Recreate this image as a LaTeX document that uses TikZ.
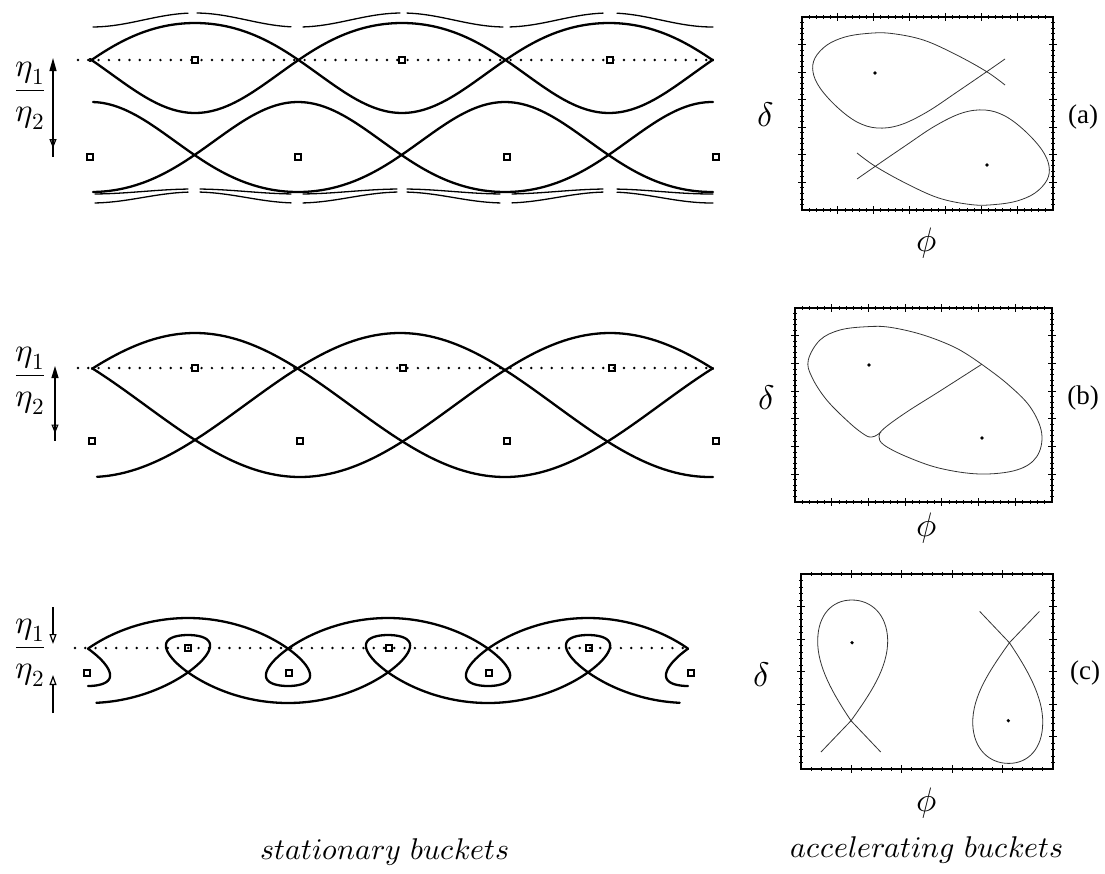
\documentclass[tikz,border=0pt]{standalone}
\usepackage{amsmath}
\usepackage{unicode-math}
\newfontfamily\labfont{Liberation Serif}
\usetikzlibrary{arrows.meta,decorations.markings}

% frame with ticks: x0,y0,x1,y1, major intervals in x and y
\newcommand{\phasebox}[6]{%
  \draw[boxline] (#1,#2) rectangle (#3,#4);
  \pgfmathsetmacro{\pbdx}{(#3-#1)/(5*#5)}%
  \pgfmathsetmacro{\pbdy}{(#4-#2)/(5*#6)}%
  \pgfmathtruncatemacro{\pbnx}{5*#5-1}%
  \pgfmathtruncatemacro{\pbny}{5*#6-1}%
  \foreach \i in {1,...,\pbnx}{%
    \pgfmathsetmacro{\tl}{mod(\i,5)==0 ? 3.8 : 1.8}%
    \draw[ticks] ({#1+\i*\pbdx},{#2-\tl}) -- ({#1+\i*\pbdx},{#2+\tl});
    \draw[ticks] ({#1+\i*\pbdx},{#4-\tl}) -- ({#1+\i*\pbdx},{#4+\tl});
  }
  \foreach \i in {1,...,\pbny}{%
    \pgfmathsetmacro{\tl}{mod(\i,5)==0 ? 3.8 : 1.8}%
    \draw[ticks] ({#1-\tl},{#2+\i*\pbdy}) -- ({#1+\tl},{#2+\i*\pbdy});
    \draw[ticks] ({#3-\tl},{#2+\i*\pbdy}) -- ({#3+\tl},{#2+\i*\pbdy});
  }
}

% separatrix of panel (a), right
\newcommand{\fishA}[1]{%
  \draw[orbit,#1] plot[smooth, tension=0.6] coordinates {(1005,85) (986.7,71.7)
    (956.7,55) (923.3,40) (890,33.3) (866.7,33.5) (845,37) (827,45) (815,58)
    (813,72) (820,88) (837,107) (857,122) (877,128) (900,125) (927,112)
    (957,92) (986.7,71.7) (1005,59)};
}

% separatrix of panel (c), right
\newcommand{\fishC}[1]{%
  \draw[orbit,#1] (821,752) -- (851,720.7)
    .. controls (870,694) and (888,668) .. (887.7,640)
    .. controls (887,614) and (871,600) .. (851.7,600)
    .. controls (832,600) and (818,615) .. (817.7,640)
    .. controls (817,666) and (833,694) .. (851,720.7) -- (880.7,752);
}

\begin{document}
\begin{tikzpicture}[x=1pt, y=-1pt,
    sepline/.style={line width=2.3pt, line cap=round},
    outerline/.style={line width=1.3pt, line cap=round},
    dotline/.style={line width=2.7pt, line cap=round, dash pattern=on 0pt off 10.3pt},
    fixpt/.style={line width=1.6pt},
    orbit/.style={line width=0.8pt, black!80},
    boxline/.style={line width=1.4pt},
    ticks/.style={line width=0.9pt},
    etalab/.style={font=\fontsize{33}{38}\selectfont},
    mathlab/.style={font=\fontsize{34}{38}\selectfont},
    captlab/.style={font=\fontsize{30}{34}\selectfont},
    panellab/.style={font=\labfont\fontsize{27}{30}\selectfont},
    opentip/.style={-{Triangle[open,length=10pt,width=7pt]}},
    openmark/.style={postaction=decorate, decoration={markings,
        mark=at position #1 with {\arrow{Triangle[open,length=9pt,width=7pt]}}}},
  ]

  \useasboundingbox (0,0) rectangle (1105,873);

  % ================= (a) stationary =================
  \draw[dotline] (78,60) -- (713,60);

  % upper separatrix
  \draw[sepline] plot[domain=90:713, samples=160]
      (\x, {64 - 45*cos(0.8696*(\x-195)) + 4*cos(1.7391*(\x-195))});
  \draw[sepline] plot[domain=90:713, samples=160]
      (\x, {64 + 45*cos(0.8696*(\x-195)) + 4*cos(1.7391*(\x-195))});
  % lower separatrix
  \draw[sepline] plot[domain=93:713, samples=160]
      (\x, {151 - 45*cos(0.8696*(\x-298)) - 4*cos(1.7391*(\x-298))});
  \draw[sepline] plot[domain=93:713, samples=160]
      (\x, {151 + 45*cos(0.8696*(\x-298)) - 4*cos(1.7391*(\x-298))});

  % outer orbits
  \foreach \a/\b in {93/188, 197/291, 303/400, 407/503, 510/603, 617/713}{
    \draw[outerline] plot[domain=\a:\b, samples=30]
        (\x, {20 - 7*cos(1.7391*(\x-195))});
  }
  \foreach \a/\b in {95/188, 200/291, 303/397, 407/500, 512/603, 617/713}{
    \draw[outerline] plot[domain=\a:\b, samples=30]
        (\x, {191.5 + 2.5*cos(1.7391*(\x-298))});
    \draw[outerline] plot[domain=\a:\b, samples=30]
        (\x, {197.5 + 5.5*cos(1.7391*(\x-298))});
  }

  % fixed points
  \foreach \px in {195,402,610}
    \draw[fixpt] ({\px-3},57) rectangle +(6,6);
  \foreach \px in {90,298,507,716}
    \draw[fixpt] ({\px-3},154) rectangle +(6,6);

  % eta arrow
  \coordinate (a-top) at (53,58);
  \coordinate (a-bot) at (53,157);
  \draw[line width=1.2pt, {Triangle[length=13pt,width=7pt]}-, openmark=0.91] (a-top) -- (a-bot);
  \node[etalab] (eta-a) at (30,96) {$\dfrac{\eta_1}{\eta_2}$};

  % ================= (b) stationary =================
  \draw[dotline] (78,368) -- (716,368);

  \draw[sepline] plot[domain=92:713, samples=160]
      (\x, {405 - 72*cos(0.5806*(\x-195))});
  \draw[sepline] plot[domain=92:713, samples=160]
      (\x, {405 - 72*cos(0.5806*(\x-610))});
  \draw[sepline] plot[domain=97:713, samples=160]
      (\x, {405 - 72*cos(0.5806*(\x-400))});

  \foreach \px in {195,403,612}
    \draw[fixpt] ({\px-3},365) rectangle +(6,6);
  \foreach \px in {92,300,507,716}
    \draw[fixpt] ({\px-3},438) rectangle +(6,6);

  \coordinate (b-top) at (55,366);
  \coordinate (b-bot) at (55,441);
  \draw[line width=1.2pt, {Triangle[length=12pt,width=7pt]}-, openmark=0.9] (b-top) -- (b-bot);
  \node[etalab] (eta-b) at (30,381) {$\dfrac{\eta_1}{\eta_2}$};

  % ================= (c) stationary =================
  \draw[dotline] (75,648) -- (690,648);

  % upper chain with loops below the crossings
  \draw[sepline] plot[domain=109:971, samples=400, variable=\t]
      ({88 + 0.5556*\t - 64*sin(\t)}, {656.3 + 34*cos(\t) - 4.3*cos(2*\t)});
  \draw[sepline] plot[domain=-109:0, samples=60, variable=\t]
      ({88 + 0.5556*\t - 64*sin(\t)}, {656.3 + 34*cos(\t) - 4.3*cos(2*\t)});
  \draw[sepline] plot[domain=1080:1189, samples=60, variable=\t]
      ({88 + 0.5556*\t - 64*sin(\t)}, {656.3 + 34*cos(\t) - 4.3*cos(2*\t)});
  % lower chain with loops above the crossings
  \draw[sepline] plot[domain=-175:895, samples=400, variable=\t]
      ({188 + 0.5556*\t - 64*sin(\t)}, {664.7 - 34*cos(\t) + 4.3*cos(2*\t)});

  \foreach \px in {188,389,589}
    \draw[fixpt] ({\px-3},645) rectangle +(6,6);
  \foreach \px in {87,289,489,691}
    \draw[fixpt] ({\px-3},670) rectangle +(6,6);

  \coordinate (c-top) at (53,607);
  \coordinate (c-mid1) at (53,644);
  \coordinate (c-mid2) at (53,675);
  \coordinate (c-bot) at (53,713);
  \draw[line width=1.2pt, opentip] (c-top) -- (c-mid1);
  \draw[line width=1.2pt, opentip] (c-bot) -- (c-mid2);
  \node[etalab] (eta-c) at (30,653) {$\dfrac{\eta_1}{\eta_2}$};

  % ================= accelerating buckets =================
  % (a)
  \phasebox{802}{17}{1053}{210}{7}{7}
  \fishA{}
  \fishA{rotate around={180:(931,119)}}
  \fill (875,73) circle (1.8);
  \fill (987,165) circle (1.8);
  \node[mathlab] (delta-a) at (766,115) {$\delta$};
  \node[mathlab] (phi-a) at (927,243) {$\phi$};
  \node[panellab] (lab-a) at (1083,117) {(a)};

  % (b)
  \phasebox{795}{308}{1052}{502}{7}{7}
  \draw[orbit] plot[smooth, tension=0.6] coordinates {(981.7,364.3) (956.7,348.3)
      (923.3,335) (890,327.3) (866.7,326.7) (840,330) (820,340) (808.3,360)
      (811.7,376.7) (826.7,400) (850,423.3) (865,435) (871.7,437) (877,435) (881,432)};
  \draw[orbit] plot[smooth, tension=0.6] coordinates {(981.7,364.3) (940,391)
      (906.7,412) (884,428.5) (879,436.5) (884,445) (906.7,456.7) (940,468.3)
      (980,474) (1016.7,470) (1036.7,456.7) (1041.7,433.3) (1030,406.7)
      (1006.7,383.3) (981.7,364.3)};
  \fill (869,365) circle (1.8);
  \fill (982,438) circle (1.8);
  \node[mathlab] (delta-b) at (767,398) {$\delta$};
  \node[mathlab] (phi-b) at (927,528) {$\phi$};
  \node[panellab] (lab-b) at (1083,398) {(b)};

  % (c)
  \phasebox{801}{574}{1053}{769}{5}{6}
  \fishC{}
  \fishC{rotate around={180:(930.2,681.7)}}
  \fill (852,642.7) circle (1.8);
  \fill (1008.3,720.7) circle (1.8);
  \node[mathlab] (delta-c) at (762,675) {$\delta$};
  \node[mathlab] (phi-c) at (927,803) {$\phi$};
  \node[panellab] (lab-c) at (1085,673) {(c)};

  % captions
  \node[captlab] (cap-stat) at (385,852) {$stationary\ buckets$};
  \node[captlab] (cap-acc) at (927,850) {$accelerating\ buckets$};

\end{tikzpicture}
\end{document}
